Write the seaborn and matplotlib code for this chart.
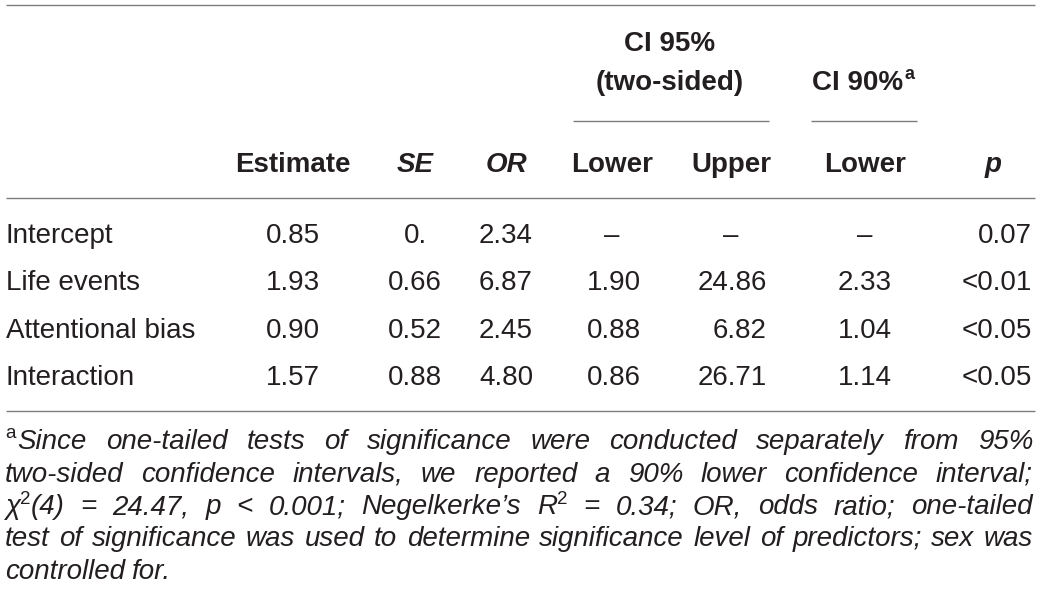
import matplotlib
matplotlib.use("Agg")
import matplotlib.pyplot as plt
import seaborn as sns

# Table content
row_labels = ["Intercept", "Life events", "Attentional bias", "Interaction"]
estimate = ["0.85", "1.93", "0.90", "1.57"]
se = ["0.", "0.66", "0.52", "0.88"]
odds_ratio = ["2.34", "6.87", "2.45", "4.80"]
ci95_lower = ["–", "1.90", "0.88", "0.86"]
ci95_upper = ["–", "24.86", "6.82", "26.71"]
ci90_lower = ["–", "2.33", "1.04", "1.14"]
p_values = ["0.07", "<0.01", "<0.05", "<0.05"]

col_headers = ["Estimate", "SE", "OR", "Lower", "Upper", "Lower", "p"]
header_italic = [False, True, True, False, False, False, True]

footnote_lines = [
    "Since one-tailed tests of significance were conducted separately from 95%",
    "two-sided confidence intervals, we reported a 90% lower confidence interval;",
    "χ^2(4) = 24.47, p < 0.001; Negelkerke’s R^2 = 0.34; OR, odds ratio; one-tailed",
    "test of significance was used to determine significance level of predictors; sex was",
    "controlled for.",
]

sns.set_theme(style="white")
plt.rcParams["font.family"] = ["Liberation Sans", "DejaVu Sans"]

INK = "#231f20"
RULE = "#7d7d7d"
W, H = 1041, 605

fig = plt.figure(figsize=(W / 100, H / 100), dpi=100)
ax = fig.add_axes([0, 0, 1, 1])
ax.set_xlim(0, W)
ax.set_ylim(H, 0)
ax.axis("off")
renderer = fig.canvas.get_renderer()

# rules
ax.hlines([5, 198, 411], 6, 1035, color=RULE, lw=1.0)
ax.hlines(121, 573, 769, color=RULE, lw=1.0)
ax.hlines(121, 811, 917, color=RULE, lw=1.0)

# column positions: (x, align)
cols = [(293, "center"), (415, "center"), (506, "center"), (614, "center"),
        (767, "right"), (865, "center"), (1032, "right")]
header_x = [293, 415, 506, 612, 731, 865, 993]
body = [estimate, se, odds_ratio, ci95_lower, ci95_upper, ci90_lower, p_values]

FS = 20
# spanning headers
ax.text(670, 51, "CI 95%", ha="center", va="baseline", fontsize=FS, weight="bold", color=INK)
ax.text(670, 90, "(two-sided)", ha="center", va="baseline", fontsize=FS, weight="bold", color=INK)
t90 = ax.text(0, 90, "CI 90%", ha="left", va="baseline", fontsize=FS, weight="bold", color=INK)
sup90 = ax.text(0, 79, "a", ha="left", va="baseline", fontsize=13, weight="bold", color=INK)
w1 = t90.get_window_extent(renderer).width
w2 = sup90.get_window_extent(renderer).width
x0 = 863 - (w1 + w2 + 1) / 2
t90.set_x(x0)
sup90.set_x(x0 + w1 + 1)

for hx, name, it in zip(header_x, col_headers, header_italic):
    ax.text(hx, 172, name, ha="center", va="baseline", fontsize=FS, weight="bold",
            style="italic" if it else "normal", color=INK)

row_y = [243, 290, 338, 385]
for y, lab in zip(row_y, row_labels):
    ax.text(6, y, lab, ha="left", va="baseline", fontsize=FS, color=INK)

for (cx, al), hx, values in zip(cols, header_x, body):
    for y, v in zip(row_y, values):
        if v == "–":
            ax.text(hx, y, v, ha="center", va="baseline", fontsize=FS, color=INK)
        else:
            ax.text(cx, y, v, ha=al, va="baseline", fontsize=FS, color=INK)

# footnote, justified
FN = 20
SUP = 13.5


def make_runs(word):
    runs = []
    parts = word.split("^")
    runs.append((parts[0], "it"))
    for p in parts[1:]:
        runs.append((p[0], "sup"))
        if p[1:]:
            runs.append((p[1:], "it"))
    return runs


def place_token(runs, y):
    texts = []
    for s, kind in runs:
        if kind == "it":
            t = ax.text(0, y, s, fontsize=FN, style="italic", va="baseline", color=INK)
        else:
            t = ax.text(0, y - 10.5, s, fontsize=SUP, va="baseline", color=INK)
        texts.append(t)
    widths = [t.get_window_extent(renderer).width for t in texts]
    return texts, widths


fn_y = [449, 481.5, 514, 546.5, 579]
left, right = 5, 1033
for i, (line, y) in enumerate(zip(footnote_lines, fn_y)):
    tokens = [place_token(make_runs(word), y) for word in line.split(" ")]
    if i == 0:
        # footnote mark glued to the first word
        mark, mw = place_token([("a", "sup")], y)
        tokens[0] = (mark + tokens[0][0], [mw[0] + 2] + tokens[0][1])
    tw = [sum(w) for _, w in tokens]
    if i < len(footnote_lines) - 1:
        gap = (right - left - sum(tw)) / (len(tokens) - 1)
    else:
        gap = 6.5
    x = left
    for texts, widths in tokens:
        xx = x
        for t, w in zip(texts, widths):
            t.set_x(xx)
            xx += w
        x += sum(widths) + gap

fig.savefig("out.png", dpi=100)
